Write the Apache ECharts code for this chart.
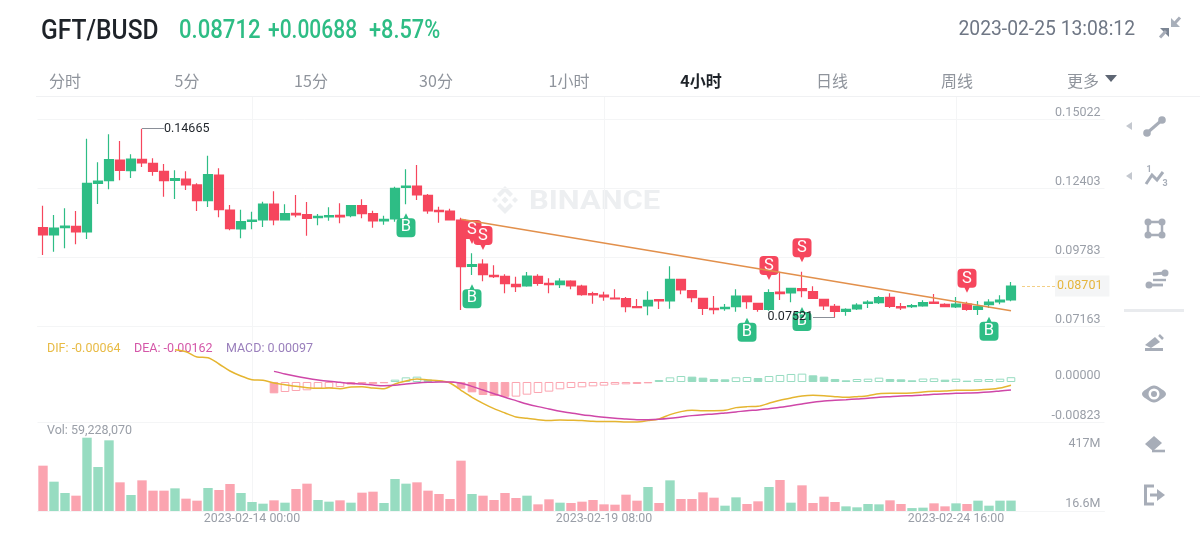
<!DOCTYPE html>
<html>
<head>
<meta charset="utf-8">
<title>GFT/BUSD</title>
<script src="https://cdn.jsdelivr.net/npm/echarts@6/dist/echarts.min.js"></script>
<style>
html, body { margin: 0; padding: 0; background: #fff; }
#chart { width: 1200px; height: 540px; }
</style>
</head>
<body>
<div id="chart"></div>
<script>
// 4h bars, 2023-02-10 20:00 onward
var opens = [.10914,.10636,.10914,.10965,.10750,.12595,.12696,.13479,.13075,.13505,
  .13353,.13050,.12708,.12759,.12532,.11938,.12911,.11584,.10863,.11154,
  .11205,.11811,.11205,.11457,.11407,.11293,.11318,.11382,.11369,.11748,
  .11444,.11166,.11242,.12443,.12493,.12139,.11571,.11545,.11204,.09448,
  .09536,.09106,.09069,.08765,.08702,.09069,.08803,.08753,.08892,.08702,
  .08411,.08361,.08247,.08222,.07919,.07944,.08184,.08133,.08955,.08525,
  .08234,.07855,.07843,.07918,.08323,.08045,.07817,.08474,.08437,.08601,
  .08487,.08196,.07931,.07741,.07830,.08045,.08070,.08272,.07918,.07918,
  .07944,.08095,.08007,.07906,.08019,.07817,.07994,.08095,.08171];
var closes = [.10636,.10901,.10977,.10750,.12595,.12683,.13492,.13088,.13517,.13366,
  .13050,.12696,.12772,.12532,.11938,.12923,.11596,.10876,.11141,.11205,
  .11811,.11205,.11445,.11394,.11268,.11344,.11369,.11318,.11748,.11445,
  .11166,.11230,.12405,.12493,.12152,.11545,.11520,.11204,.09435,.09511,
  .09132,.09056,.08791,.08677,.09081,.08803,.08753,.08892,.08702,.08374,
  .08361,.08285,.08209,.07919,.07881,.08159,.08133,.08955,.08550,.08260,
  .07855,.07805,.07893,.08323,.08108,.07817,.08449,.08411,.08613,.08525,
  .08234,.07944,.07741,.07817,.07982,.08095,.08260,.07931,.07868,.07956,
  .08070,.08045,.07918,.08019,.07817,.07931,.08095,.08171,.08701];
var lows = [.09878,.10004,.10131,.10282,.10484,.11811,.12367,.12708,.12797,.13214,
  .12885,.12089,.12001,.12342,.11546,.11698,.11306,.10813,.10510,.10851,
  .10939,.11002,.11205,.11306,.10611,.11002,.11179,.11078,.11306,.11268,
  .10914,.11027,.11141,.11798,.11962,.11444,.11103,.11192,.07792,.09119,
  .08879,.09005,.08424,.08475,.08677,.08715,.08424,.08626,.08576,.08336,
  .08032,.08146,.08197,.07704,.07855,.07590,.07830,.07843,.08386,.08083,
  .07602,.07628,.07767,.07729,.07843,.07729,.07767,.08171,.08083,.08272,
  .08209,.07792,.07521,.07577,.07792,.07868,.08019,.07868,.07792,.07868,
  .07918,.08019,.07906,.07868,.07767,.07602,.07868,.08007,.08121];
var highs = [.11748,.11394,.11647,.11546,.14288,.13391,.14452,.14200,.13694,.14665,
  .13543,.13328,.13088,.13050,.12595,.13644,.13163,.11773,.11596,.11521,
  .11900,.12291,.11799,.12152,.11887,.11432,.11685,.11837,.11761,.11988,
  .11558,.11369,.12468,.13125,.13289,.12190,.11710,.11634,.11293,.09941,
  .09713,.09486,.09144,.09056,.09233,.09144,.08993,.08993,.08917,.08753,
  .08487,.08487,.08576,.08285,.08209,.08500,.08209,.09448,.08955,.08550,
  .08247,.08323,.08019,.08576,.08335,.08057,.08576,.09245,.08639,.09245,
  .08689,.08209,.08019,.07855,.08045,.08158,.08323,.08424,.08057,.08019,
  .08158,.08399,.08045,.08285,.08108,.08133,.08196,.08348,.08853];

// volume in millions
var volumes = [257.9,166.8,102.4,87.2,417,250.3,402,163.1,91,174.4,
  115.7,115.7,128.9,70.2,58.8,130.8,119.4,153.6,102.4,51.2,
  41.7,60.7,47.4,125.1,155.5,62.6,53.1,60.7,47.4,104.3,
  110,45.5,182,155.5,163.1,115.7,96.7,68.3,286.3,96.7,
  87.2,62.6,102.4,73.9,87.2,37.9,66.4,47.4,45.5,53.1,
  62.6,37.9,36,92.9,58.8,136.5,45.5,174.4,68.3,68.3,
  106.2,75.8,30.3,77.7,39.8,55,136.5,176.3,47.4,146,
  45.5,81.5,51.2,26.5,20.9,39.8,37.9,60.7,39.8,16.6,
  19,43.6,26.5,43.6,39.8,58.8,30.3,58.8,59.23];

// MACD, the first bars are not drawn in the picture
var macdHist = Array(21).fill(null).concat([-.00229,-.00202,-.00182,-.00168,-.00135,-.00121,-.00101,-.00054,-.00034,-.00038,-.00026,
  .00047,.00094,.00108,.00050,.00030,-.00005,-.00135,-.00209,-.00263,-.00283,-.00300,-.00296,
  -.00256,-.00222,-.00195,-.00148,-.00121,-.00108,-.00088,-.00074,-.00054,-.00047,-.00040,-.00027,
  .00040,.00094,.00121,.00108,.00088,.00061,.00054,.00095,.00101,.00081,.00121,.00142,.00162,.00169,
  .00135,.00108,.00061,.00034,.00060,.00067,.00088,.00061,.00054,.00034,.00070,.00074,.00047,.00067,
  .00027,.00056,.00060,.00067,.00097]);
var dif = Array(12).fill(null).concat([.00653,.00613,.00505,.00492,.00364,.00222,.00121,.00047,.00034,-.00020,
  -.00054,-.00088,-.00114,-.00128,-.00121,-.00135,-.00101,-.00094,-.00121,-.00135,
  -.00040,.00020,.00061,.00040,.00027,-.00020,-.00168,-.00310,-.00431,-.00539,
  -.00626,-.00707,-.00734,-.00761,-.00781,-.00768,-.00774,-.00781,-.00794,-.00801,
  -.00801,-.00808,-.00808,-.00781,-.00747,-.00660,-.00599,-.00572,-.00579,-.00579,
  -.00572,-.00518,-.00498,-.00492,-.00431,-.00370,-.00323,-.00283,-.00269,-.00276,
  -.00296,-.00310,-.00296,-.00276,-.00236,-.00229,-.00229,-.00222,-.00202,-.00189,
  -.00182,-.00168,-.00168,-.00162,-.00148,-.00121,-.00064]);
var dea = Array(21).fill(null).concat([.00215,.00162,.00114,.00074,.00040,.00013,-.00007,-.00027,-.00040,-.00061,
  -.00074,-.00067,-.00040,-.00020,-.00007,0,0,-.00027,-.00088,-.00162,
  -.00236,-.00310,-.00377,-.00444,-.00498,-.00545,-.00593,-.00626,-.00660,-.00687,
  -.00714,-.00734,-.00747,-.00761,-.00761,-.00754,-.00734,-.00707,-.00680,-.00660,
  -.00646,-.00626,-.00606,-.00579,-.00566,-.00539,-.00512,-.00478,-.00444,-.00411,
  -.00384,-.00370,-.00357,-.00343,-.00330,-.00310,-.00296,-.00283,-.00276,-.00263,
  -.00249,-.00236,-.00229,-.00222,-.00215,-.00202,-.00182,-.00162]);

// [bar index, price the marker tip points at]
var sellMarks = [[39,.10294],[40,.10067],[66,.08930],[69,.09601],[84,.08448]];
var buyMarks = [[33,.11458],[39,.08767],[64,.07500],[69,.07906],[86,.07538]];
var trendLine = [[38,.11231],[88.2,.07766]];

var priceTicks = [.07163,.09783,.12403,.15022];
var macdTicks = [-.00823,0];
var volTicks = [16.6,417];
var timeTicks = ['2023-02-14 00:00','2023-02-19 08:00','2023-02-24 16:00'];
var lastPrice = .08701;
var highLabel = .14665;
var lowLabel = .07521;

var tabs = ['分时','5分','15分','30分','1小时','4小时','日线','周线','更多'];
var tabX = [65,187,311,436,569,701,832,957,1083];

var green = '#2ebd85', red = '#f6465d';
var paleGreen = '#97dcc1', paleRed = '#fba4b0';
var gridColor = '#f4f5f6', tickColor = '#9a9fa8', iconColor = '#a7adb8';
var cjk = '"Noto Sans CJK SC", sans-serif';

var categories = [];
for (var i = 0; i < 97; i++) {
    categories.push(new Date(Date.UTC(2023, 1, 10, 20) + i * 4 * 3600000).toISOString().slice(0, 16).replace('T', ' '));
}

var candleData = opens.map(function (o, i) { return [o, closes[i], lows[i], highs[i]]; });
var volData = volumes.map(function (v, i) {
    return { value: v, itemStyle: { color: closes[i] >= opens[i] ? paleGreen : paleRed } };
});
// rising histogram bars are hollow, falling ones are solid
var histData = macdHist.map(function (v, i) {
    if (v === null) return null;
    var prev = macdHist[i - 1];
    var c = v >= 0 ? paleGreen : paleRed;
    var hollow = prev !== null && v > prev;
    return { value: v, itemStyle: { color: hollow ? '#fff' : c, borderColor: c, borderWidth: 1 } };
});

var pinDown = 'path://M4 0H15Q19 0 19 4V15Q19 19 15 19H12L9.5 24L7 19H4Q0 19 0 15V4Q0 0 4 0Z';
var pinUp = 'path://M9.5 0L12 5H15Q19 5 19 9V20Q19 24 15 24H4Q0 24 0 20V9Q0 5 4 5H7Z';

function pinPoint(m, isSell) {
    return {
        coord: m,
        symbol: isSell ? pinDown : pinUp,
        symbolSize: [19, 24],
        symbolOffset: [0, isSell ? -12 : 12],
        itemStyle: { color: isSell ? red : green },
        label: {
            show: true, position: 'inside', formatter: isSell ? 'S' : 'B',
            color: '#fff', fontSize: 16.5, fontFamily: 'Roboto', offset: [0, isSell ? -2 : 2]
        }
    };
}
var pins = sellMarks.map(function (m) { return pinPoint(m, true); })
    .concat(buyMarks.map(function (m) { return pinPoint(m, false); }));

function calloutLine(from, to, val) {
    return [{
        coord: [from, val],
        lineStyle: { color: '#8a8f98', width: 1, type: 'solid' },
        label: {
            show: true, position: 'end', formatter: val.toFixed(5), color: '#1e2329',
            fontSize: 12.5, fontFamily: 'Roboto', distance: 0
        }
    }, { coord: [to, val] }];
}

var lines = [
    [{ coord: trendLine[0], lineStyle: { color: '#e2904c', width: 1.6, type: 'solid' }, label: { show: false } }, { coord: trendLine[1] }],
    calloutLine(9, 10.7, highLabel),
    calloutLine(72, 70.4, lowLabel),
    [{
        coord: [88.5, lastPrice],
        lineStyle: { color: '#f3cf86', width: 1, type: [3, 2] },
        label: {
            show: true, position: 'end', formatter: lastPrice.toFixed(5), color: '#e5b53c',
            fontSize: 12.5, fontFamily: 'Roboto', backgroundColor: '#f4f5f6',
            padding: [4, 7, 4, 2], distance: 0
        }
    }, { coord: [91.7, lastPrice] }]
];

function priceAxis(gridIndex, min, max, ticks, lineTicks) {
    return {
        type: 'value', gridIndex: gridIndex, position: 'right', min: min, max: max, scale: true,
        axisLine: { show: false },
        axisTick: { show: false, customValues: lineTicks },
        splitLine: { show: true, lineStyle: { color: gridColor, width: 1 } },
        axisLabel: {
            color: tickColor, fontSize: 12.5, fontFamily: 'Roboto',
            inside: true, margin: 4, customValues: ticks,
            formatter: function (v) { return v.toFixed(5); },
            verticalAlign: 'bottom', padding: [0, 0, 0, 0]
        }
    };
}

function timeAxis(gridIndex, showLabel) {
    var keep = function (idx, val) { return timeTicks.indexOf(val) >= 0; };
    return {
        type: 'category', gridIndex: gridIndex, data: categories, boundaryGap: true,
        axisLine: { show: gridIndex !== 1, lineStyle: { color: gridColor } },
        axisTick: { show: false },
        splitLine: { show: true, interval: keep, alignWithLabel: true, lineStyle: { color: gridColor } },
        axisLabel: {
            color: tickColor, fontSize: 12.4, fontFamily: 'Roboto',
            show: showLabel, interval: keep, margin: 2, formatter: function (v) { return v; }
        }
    };
}

// volume labels sit below the max bar's level and above the min bar's level
var volAxis = priceAxis(2, 0, 502.3, volTicks, volTicks);
volAxis.splitLine = { show: false };
volAxis.axisLabel.verticalAlign = 'middle';
volAxis.axisLabel.formatter = function (v) { return v > 100 ? '{hi|' + v + 'M}' : '{lo|' + v + 'M}'; };
volAxis.axisLabel.rich = {
    hi: { color: tickColor, fontSize: 12.5, fontFamily: 'Roboto', padding: [13, 0, 0, 0] },
    lo: { color: tickColor, fontSize: 12.5, fontFamily: 'Roboto', padding: [0, 0, 9, 0] }
};

function txt(x, y, s, font, fill, align, sx) {
    return { type: 'text', x: x, y: y, silent: true, scaleX: sx || 1,
        style: { text: s, font: font, fill: fill, textAlign: align || 'left', textVerticalAlign: 'middle' } };
}
function dot(x, y, r) {
    return { type: 'circle', silent: true, shape: { cx: x, cy: y, r: r }, style: { fill: iconColor } };
}
function seg(x1, y1, x2, y2, w) {
    return { type: 'line', silent: true, shape: { x1: x1, y1: y1, x2: x2, y2: y2 }, style: { stroke: iconColor, lineWidth: w } };
}
function poly(pts, color) {
    return { type: 'polygon', silent: true, shape: { points: pts }, style: { fill: color || iconColor } };
}
function stroke(pts, w) {
    return { type: 'polyline', silent: true, shape: { points: pts }, style: { stroke: iconColor, lineWidth: w, fill: 'none' } };
}
function logoPart(pts) {
    return poly(pts.map(function (p) { return [489 + p[0], 184 + p[1]]; }), '#edeff1');
}

var decor = [
    // watermark
    logoPart([[16,12.5],[19.5,16],[16,19.5],[12.5,16]]),
    logoPart([[6,13],[9,16],[6,19],[3,16]]),
    logoPart([[26,13],[29,16],[26,19],[23,16]]),
    logoPart([[16,2],[24,10],[21,13],[16,8],[11,13],[8,10]]),
    logoPart([[16,30],[24,22],[21,19],[16,24],[11,19],[8,22]]),
    txt(529, 202, 'BINANCE', '700 26px Roboto', '#edeff1', 'left', 1.19),
    // header
    txt(41, 32, 'GFT/BUSD', '500 27px Roboto', '#1e2329', 'left', 0.91),
    txt(179, 32, '0.08712', '500 25px Roboto', green, 'left', 0.885),
    txt(268, 32, '+0.00688', '500 25px Roboto', green, 'left', 0.84),
    txt(369, 32, '+8.57%', '500 25px Roboto', green, 'left', 0.87),
    txt(1135, 30, '2023-02-25 13:08:12', '19.3px Roboto', '#6f7785', 'right'),
    { type: 'rect', silent: true, shape: { x: 36, y: 96, width: 1164, height: 1 }, style: { fill: '#f0f1f3' } },
    // panel legends
    txt(47, 348.5, 'DIF: -0.00064', '12.5px Roboto', '#e8bb45'),
    txt(134, 348.5, 'DEA: -0.00162', '12.5px Roboto', '#d457a8'),
    txt(226, 348.5, 'MACD: 0.00097', '12.5px Roboto', '#9a7fbc'),
    txt(47, 430.5, 'Vol: 59,228,070', '12.5px Roboto', tickColor),
    // sidebar
    poly([[1132,122],[1132,130],[1126,126]], '#c4c8cf'),
    dot(1147,133,3.8), dot(1162,120,3.8), seg(1147,133,1162,120,3),
    poly([[1132,172],[1132,180],[1126,176]], '#c4c8cf'),
    stroke([[1146,184],[1152,175],[1157,180],[1163,172]], 3),
    txt(1149,170,'1','700 9px Roboto',iconColor,'center'),
    txt(1165,184,'3','700 9px Roboto',iconColor,'center'),
    { type: 'rect', silent: true, shape: { x: 1148, y: 222, width: 14, height: 13 }, style: { stroke: iconColor, lineWidth: 2.5, fill: 'none' } },
    dot(1148,222,3.5), dot(1162,222,3.5), dot(1148,235,3.5), dot(1162,235,3.5),
    dot(1165,273,3.5), seg(1153,274,1165,273,2.8), seg(1153,280,1166,280,2.4),
    dot(1149,285,3.5), seg(1149,285,1163,285,2.8),
    { type: 'rect', silent: true, shape: { x: 1124, y: 309, width: 60, height: 3 }, style: { fill: '#e9ebee' } },
    poly([[1145,345],[1155,337],[1160,342],[1151,348]]), seg(1159,335,1163,339,2.5),
    { type: 'rect', silent: true, shape: { x: 1145, y: 348, width: 18, height: 3 }, style: { fill: iconColor } },
    { type: 'polygon', silent: true,
      shape: { smooth: 0.4, points: [[1142,394],[1148,388],[1154,385.5],[1160,388],[1166,394],[1160,400],[1154,402.5],[1148,400]] },
      style: { fill: iconColor } },
    { type: 'circle', silent: true, shape: { cx: 1154, cy: 394, r: 5.5 }, style: { fill: '#fff' } },
    dot(1154,394,3),
    poly([[1145,444],[1154,436],[1162,443],[1153,451]]), seg(1152,451,1165,451,2.6),
    stroke([[1154,486],[1145.5,486],[1145.5,504],[1154,504]], 3),
    seg(1150,495,1158,495,3), poly([[1157,489],[1165,495],[1157,501]]),
    // collapse icon
    poly([[1171,18],[1171,27],[1180,27]], '#a8b0bb'), seg(1174,24,1180,17.5,3),
    poly([[1160,28],[1169,28],[1169,37]], '#7b8594'), seg(1166,31,1160,37.5,3),
    poly([[1105,75],[1117,75],[1111,82]], '#5e6673')
];

tabs.forEach(function (t, i) {
    var active = t === '4小时';
    decor.push(txt(tabX[i], 81, t, (active ? '700' : '400') + ' 16px ' + cjk, active ? '#1e2329' : '#8f949c', 'center'));
});

var chart = echarts.init(document.getElementById('chart'));

chart.setOption({
    animation: false,
    backgroundColor: '#fff',
    grid: [
        { left: 37.5, right: 95.5, top: 97, height: 229.6 },
        { left: 37.5, right: 95.5, top: 326.6, height: 96.1 },
        { left: 37.5, right: 95.5, top: 422.7, height: 88.3 }
    ],
    xAxis: [timeAxis(0, false), timeAxis(1, false), timeAxis(2, true)],
    yAxis: [
        priceAxis(0, .07163, .15867, priceTicks, priceTicks),
        priceAxis(1, -.00823, .0112, macdTicks, [-.00823]),
        volAxis
    ],
    graphic: { elements: decor },
    series: [{
        name: 'GFT/BUSD',
        type: 'candlestick',
        xAxisIndex: 0, yAxisIndex: 0,
        barWidth: 8.6,
        data: candleData,
        itemStyle: { color: green, color0: red, borderColor: green, borderColor0: red, borderWidth: 1.2 },
        markPoint: { silent: true, animation: false, z: 5, data: pins },
        markLine: { silent: true, animation: false, symbol: 'none', z: 6, data: lines }
    }, {
        name: 'MACD',
        type: 'bar',
        xAxisIndex: 1, yAxisIndex: 1,
        barWidth: 8.6,
        data: histData
    }, {
        name: 'DIF',
        type: 'line',
        xAxisIndex: 1, yAxisIndex: 1,
        showSymbol: false, smooth: 0.3,
        lineStyle: { color: '#e5b530', width: 1.5 },
        data: dif
    }, {
        name: 'DEA',
        type: 'line',
        xAxisIndex: 1, yAxisIndex: 1,
        showSymbol: false, smooth: 0.3,
        lineStyle: { color: '#cf47a8', width: 1.5 },
        data: dea
    }, {
        name: 'Vol',
        type: 'bar',
        xAxisIndex: 2, yAxisIndex: 2,
        barWidth: 9.4,
        data: volData
    }]
});
</script>
</body>
</html>
